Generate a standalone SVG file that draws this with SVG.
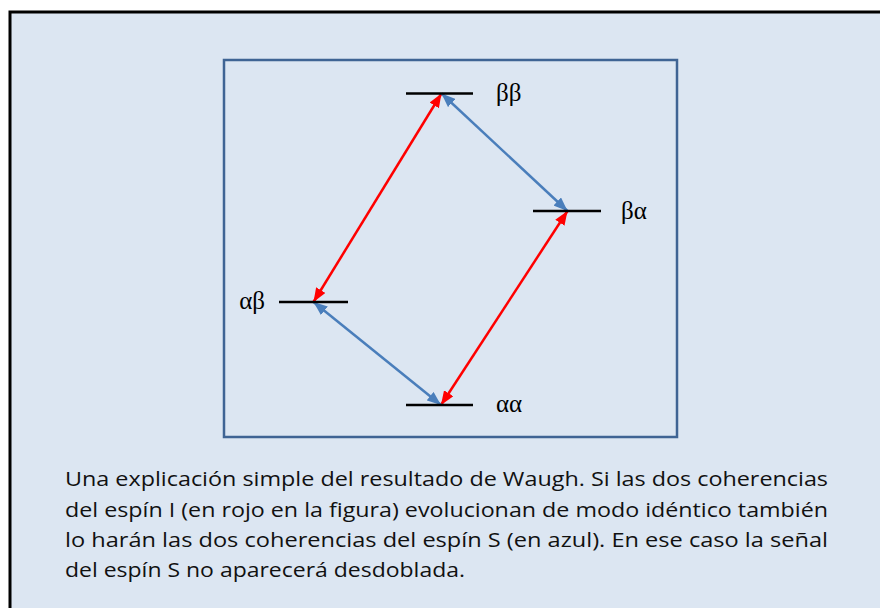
<svg xmlns="http://www.w3.org/2000/svg" width="880" height="608" viewBox="0 0 880 608">
<defs>
<style>
.lvl{stroke:#000;stroke-width:2.5;}
.lbl{font-family:"Liberation Serif","DejaVu Serif",serif;font-size:25px;fill:#000;}
.cap{font-family:"Open Sans","Liberation Sans",sans-serif;font-size:19.5px;fill:#111;}
.red{stroke:#ff0000;stroke-width:2.5;fill:none;}
.blue{stroke:#4a7ebb;stroke-width:2.5;fill:none;}
</style>
<marker id="ar" viewBox="0 0 14 11" refX="14" refY="5.5" markerWidth="14" markerHeight="11" markerUnits="userSpaceOnUse" orient="auto-start-reverse"><path d="M0,0 L14,5.5 L0,11 Z" fill="#ff0000"/></marker>
<marker id="ab" viewBox="0 0 14 11" refX="14" refY="5.5" markerWidth="14" markerHeight="11" markerUnits="userSpaceOnUse" orient="auto-start-reverse"><path d="M0,0 L14,5.5 L0,11 Z" fill="#4a7ebb"/></marker>
</defs>
<rect x="10" y="12" width="900" height="620" fill="#dce6f2" stroke="#000" stroke-width="3"/>
<rect id="frame" x="224" y="60" width="453" height="377" fill="none" stroke="#3f6494" stroke-width="2.5"/>
<g id="connectors">
<line class="red" x1="313.5" y1="302" x2="441.5" y2="93.5" marker-start="url(#ar)" marker-end="url(#ar)"/>
<line class="red" x1="441" y1="405" x2="567.5" y2="211" marker-start="url(#ar)" marker-end="url(#ar)"/>
<line class="blue" x1="441.5" y1="93.5" x2="567.5" y2="211" marker-start="url(#ab)" marker-end="url(#ab)"/>
<line class="blue" x1="313.5" y1="302" x2="441" y2="405" marker-start="url(#ab)" marker-end="url(#ab)"/>
</g>
<g id="bb"><line class="lvl" x1="406" y1="93.5" x2="473" y2="93.5"/><text class="lbl" x="496" y="101">ββ</text></g>
<g id="ba"><line class="lvl" x1="533" y1="211" x2="601" y2="211"/><text class="lbl" x="621" y="219">βα</text></g>
<g id="ab_"><line class="lvl" x1="279" y1="302" x2="348" y2="302"/><text class="lbl" x="265" y="309" text-anchor="end">αβ</text></g>
<g id="aa"><line class="lvl" x1="406" y1="405" x2="473" y2="405"/><text class="lbl" x="496" y="412">αα</text></g>
<g id="caption">
<text class="cap" x="65" y="486" textLength="763" lengthAdjust="spacingAndGlyphs">Una explicación simple del resultado de Waugh. Si las dos coherencias</text>
<text class="cap" x="65" y="516.5" textLength="763" lengthAdjust="spacingAndGlyphs">del espín I (en rojo en la figura) evolucionan de modo idéntico también</text>
<text class="cap" x="65" y="547" textLength="763" lengthAdjust="spacingAndGlyphs">lo harán las dos coherencias del espín S (en azul). En ese caso la señal</text>
<text class="cap" x="65" y="577" textLength="400" lengthAdjust="spacingAndGlyphs">del espín S no aparecerá desdoblada.</text>
</g>
</svg>
